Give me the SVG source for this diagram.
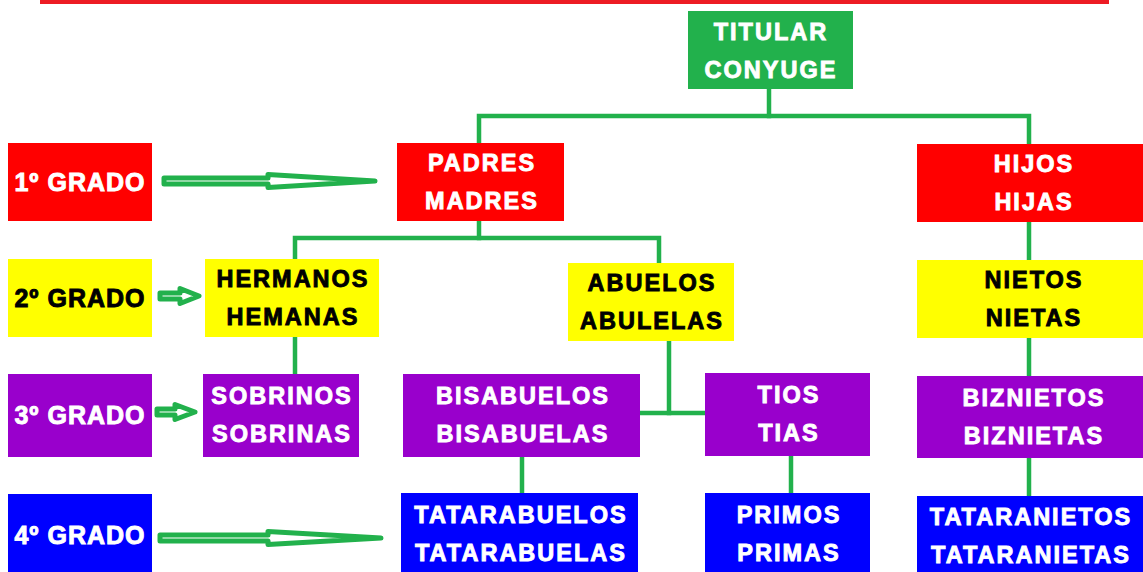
<svg xmlns="http://www.w3.org/2000/svg" width="1143" height="572" viewBox="0 0 1143 572">
<style>
.t{font-family:"Liberation Sans",Arial,sans-serif;font-weight:bold;font-size:23.5px;letter-spacing:2px;text-anchor:middle;stroke-width:0.9px}
.g{font-family:"Liberation Sans",Arial,sans-serif;font-weight:bold;font-size:25px;letter-spacing:1px;text-anchor:middle;stroke-width:0.9px}
.w{fill:#ffffff;stroke:#ffffff}
.k{fill:#000000;stroke:#000000}
.red{fill:#ff0000}
.yel{fill:#ffff00}
.pur{fill:#9900cc}
.blu{fill:#0000ff}
.grn{fill:#22b14c}
.c{fill:none;stroke:#22b14c;stroke-width:4.5;stroke-linecap:square;stroke-linejoin:miter}
.ar{fill:#ffffff;stroke:#22b14c;stroke-width:5;stroke-linejoin:round}
</style>
<rect x="40" y="0" width="1069" height="4" fill="#ed1c24"/>
<g id="connectors">
<polyline class="c" points="769,89 769,116"/>
<polyline class="c" points="479,143 479,116 1029,116 1029,144"/>
<polyline class="c" points="479,221 479,238"/>
<polyline class="c" points="295,259 295,238 659,238 659,263"/>
<polyline class="c" points="295,337 295,374"/>
<polyline class="c" points="669,341 669,413"/>
<polyline class="c" points="640,413 705,413"/>
<polyline class="c" points="522,457 522,493"/>
<polyline class="c" points="791,456 791,493"/>
<polyline class="c" points="1029,222 1029,260"/>
<polyline class="c" points="1029,338 1029,376"/>
<polyline class="c" points="1029,458 1029,496"/>
</g>
<g id="arrows">
<polygon class="ar" points="164,178 268,178 268,174.5 375,181 268,187.5 268,184 164,184"/>
<polygon class="ar" points="160,293 180,293 180,288.5 199,296 180,303.5 180,299 160,299"/>
<polygon class="ar" points="157,409 175,409 175,404.5 195,412 175,419.5 175,415 157,415"/>
<polygon class="ar" points="160,535 268,535 268,531.5 381,538 268,544.5 268,541 160,541"/>
</g>
<g id="titular"><rect class="grn" x="688" y="11" width="165" height="78"/><text class="t w" x="771" y="40">TITULAR</text><text class="t w" x="771" y="78">CONYUGE</text></g>
<g id="grado1"><rect class="red" x="8" y="143" width="144" height="78"/><text class="g w" x="80" y="191">1º GRADO</text></g>
<g id="padres"><rect class="red" x="397" y="143" width="167" height="78"/><text class="t w" x="482" y="171">PADRES</text><text class="t w" x="482" y="209">MADRES</text></g>
<g id="hijos"><rect class="red" x="917" y="144" width="226" height="78"/><text class="t w" x="1034" y="172">HIJOS</text><text class="t w" x="1034" y="210">HIJAS</text></g>
<g id="grado2"><rect class="yel" x="8" y="259" width="144" height="78"/><text class="g k" x="80" y="307">2º GRADO</text></g>
<g id="hermanos"><rect class="yel" x="205" y="259" width="174" height="78"/><text class="t k" x="293" y="287">HERMANOS</text><text class="t k" x="293" y="325">HEMANAS</text></g>
<g id="abuelos"><rect class="yel" x="568" y="263" width="166" height="78"/><text class="t k" x="652" y="291">ABUELOS</text><text class="t k" x="652" y="329">ABULELAS</text></g>
<g id="nietos"><rect class="yel" x="917" y="260" width="226" height="78"/><text class="t k" x="1034" y="288">NIETOS</text><text class="t k" x="1034" y="326">NIETAS</text></g>
<g id="grado3"><rect class="pur" x="8" y="374" width="144" height="83"/><text class="g w" x="80" y="424">3º GRADO</text></g>
<g id="sobrinos"><rect class="pur" x="203" y="374" width="156" height="83"/><text class="t w" x="282" y="404">SOBRINOS</text><text class="t w" x="282" y="442">SOBRINAS</text></g>
<g id="bisabuelos"><rect class="pur" x="403" y="374" width="237" height="83"/><text class="t w" x="523" y="404">BISABUELOS</text><text class="t w" x="523" y="442">BISABUELAS</text></g>
<g id="tios"><rect class="pur" x="705" y="373" width="165" height="83"/><text class="t w" x="789" y="403">TIOS</text><text class="t w" x="789" y="441">TIAS</text></g>
<g id="biznietos"><rect class="pur" x="917" y="376" width="226" height="82"/><text class="t w" x="1034" y="406">BIZNIETOS</text><text class="t w" x="1034" y="444">BIZNIETAS</text></g>
<g id="grado4"><rect class="blu" x="8" y="494" width="144" height="78"/><text class="g w" x="80" y="544">4º GRADO</text></g>
<g id="tatarabuelos"><rect class="blu" x="401" y="493" width="237" height="79"/><text class="t w" x="521" y="523">TATARABUELOS</text><text class="t w" x="521" y="561">TATARABUELAS</text></g>
<g id="primos"><rect class="blu" x="705" y="493" width="165" height="79"/><text class="t w" x="789" y="523">PRIMOS</text><text class="t w" x="789" y="561">PRIMAS</text></g>
<g id="tataranietos"><rect class="blu" x="917" y="496" width="226" height="76"/><text class="t w" x="1031" y="525">TATARANIETOS</text><text class="t w" x="1031" y="563">TATARANIETAS</text></g>
</svg>
